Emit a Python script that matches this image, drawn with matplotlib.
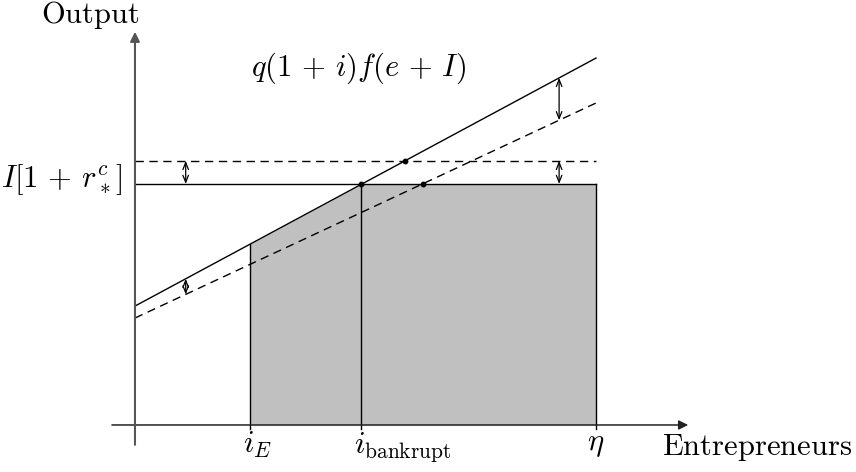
import numpy as np
import matplotlib
matplotlib.use("Agg")
import matplotlib.pyplot as plt

plt.rcParams['mathtext.fontset'] = 'cm'

# entrepreneur positions on the horizontal axis
eta = 10.0
i_E = 2.5
i_bankrupt = 4.9

# repayment levels
repay = 5.23          # I[1 + r*c]
repay_high = 5.73     # dashed, higher repayment

# expected output q(1+i)f(e+I), before and after the shift
solid_ends = [2.58, 7.96]
dashed_ends = [2.32, 6.985]

# x positions of the small double arrows
gap_left = 1.1
gap_right = 9.2

fig = plt.figure(figsize=(8.56, 4.72), dpi=100)
ax = fig.add_axes([0, 0, 1, 1])
ax.set_xlim(-2.928, 15.64)
ax.set_ylim(-1.02, 9.22)
ax.axis('off')

xs = np.array([0.0, eta])
solid = lambda x: solid_ends[0] + (solid_ends[1] - solid_ends[0]) * x / eta
dashed = lambda x: dashed_ends[0] + (dashed_ends[1] - dashed_ends[0]) * x / eta

# shaded region of lending under the output line
xf = np.linspace(i_E, eta, 300)
ax.fill_between(xf, 0, np.minimum(solid(xf), repay), color='#c0c0c0', lw=0)

lw = 1.0
ax.plot(xs, solid(xs), color='black', lw=lw)
ax.plot(xs, dashed(xs), color='black', lw=lw, ls=(0, (6, 4)))
ax.plot(xs, [repay, repay], color='black', lw=lw)
ax.plot(xs, [repay_high, repay_high], color='black', lw=lw, ls=(0, (6, 4)))

ax.plot([i_E, i_E], [-0.09, solid(i_E)], color='black', lw=lw)
ax.plot([i_bankrupt, i_bankrupt], [-0.09, repay], color='black', lw=lw)
ax.plot([eta, eta], [-0.09, repay], color='black', lw=lw)

# axes with arrow heads
ax.annotate('', xy=(12.0, 0), xytext=(-0.5, 0),
            arrowprops=dict(arrowstyle='-|>', color='#222222', lw=1.1,
                            mutation_scale=14, shrinkA=0, shrinkB=0))
ax.annotate('', xy=(0, 8.53), xytext=(0, -0.43),
            arrowprops=dict(arrowstyle='-|>', color='#555555', lw=1.5,
                            mutation_scale=14, shrinkA=0, shrinkB=0))

# intersection points
x_a = (repay_high - solid_ends[0]) / ((solid_ends[1] - solid_ends[0]) / eta)
x_b = (repay - dashed_ends[0]) / ((dashed_ends[1] - dashed_ends[0]) / eta)
ax.plot([i_bankrupt, x_a, x_b], [repay, repay_high, repay], 'o',
        color='black', ms=3.2)

def gap(x, y0, y1):
    ax.annotate('', xy=(x, y1), xytext=(x, y0),
                arrowprops=dict(arrowstyle='<->,head_length=0.5,head_width=0.2',
                                color='black', lw=0.9, shrinkA=0, shrinkB=0))

gap(gap_left, dashed(gap_left), solid(gap_left))
gap(gap_left, repay, repay_high)
gap(gap_right, dashed(gap_right), solid(gap_right))
gap(gap_right, repay, repay_high)

fs = 22
ax.text(-0.976, 8.72, r'$\mathrm{Output}$', fontsize=fs, ha='center', va='baseline')
ax.text(4.85, 7.57, r'$q(1\,+\,i)f(e\,+\,I)$', fontsize=fs, ha='center',
        va='baseline')
ax.text(-0.28, 5.16, r'$I[1\,+\,r^c_*]$', fontsize=fs, ha='right', va='baseline')
ax.text(i_E - 0.15, -0.61, r'$i_E$', fontsize=fs, ha='left', va='baseline')
ax.text(i_bankrupt - 0.15, -0.61, r'$i_{\mathrm{bankrupt}}$', fontsize=fs,
        ha='left', va='baseline')
ax.text(eta, -0.55, r'$\eta$', fontsize=fs, ha='center', va='baseline')
ax.text(11.43, -0.65, r'$\mathrm{Entrepreneurs}$', fontsize=fs, ha='left',
        va='baseline')

fig.savefig('out.png', dpi=100)
